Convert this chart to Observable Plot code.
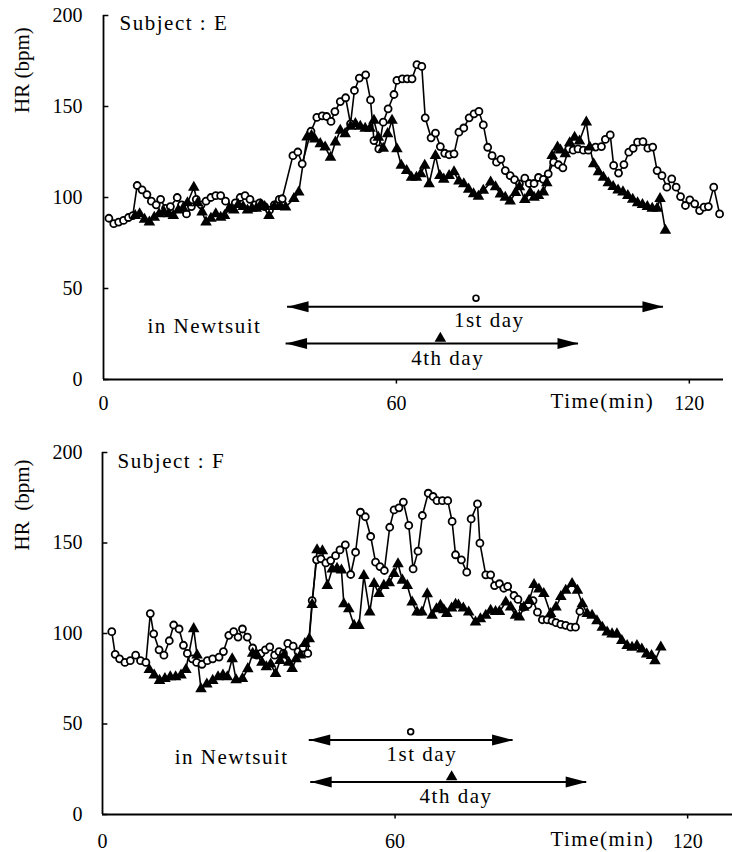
<!DOCTYPE html>
<html><head><meta charset="utf-8">
<script src="https://cdn.jsdelivr.net/npm/d3@7"></script>
<script src="https://cdn.jsdelivr.net/npm/@observablehq/plot@0.6"></script>
<style>
body{margin:0;background:#fff;}
#chart{width:732px;}
#chart svg{display:block;}
</style></head><body><div id="chart"></div>
<script>
// ---- tick values ----
const yTicks = [0, 50, 100, 150, 200];
const xTicks = [0, 60, 120];
const xTitle = "Time(min)";
const yTitles = ["HR (bpm)", "HR\u2002(bpm)"];
const subjects = ["Subject : E", "Subject : F"];
const suitLabel = "in Newtsuit";
const dayLabels = ["1st day", "4th day"];

// ---- Subject E : [time (min), HR (bpm)] ----
const eDay1 = [[1.1,88.6],[2.1,85.6],[3.1,86.5],[4.1,87.4],[5.1,89],[6.0,90],[6.9,106.6],[7.9,104.2],[8.9,101.6],[9.8,98],[10.8,96],[11.7,99],[12.7,94],[13.7,95],[15.1,100],[16.0,96],[17.0,91],[18.0,95],[19.0,99],[20.0,96],[21.0,98],[22.0,100],[23.0,101],[24.0,101],[25.0,98],[26.0,94],[27.0,97],[28.0,100],[29.0,101],[30.0,99],[31.0,96],[32.0,97],[33.0,95],[34.0,93],[35.0,96],[36.0,99],[36.6,99.3],[38.8,123],[39.8,125],[40.7,118.5],[42.5,136.4],[43.7,144],[44.8,144.9],[45.7,144.5],[46.6,141.8],[47.4,147.2],[48.5,152.7],[49.6,154.8],[50.6,140.5],[51.4,158.8],[52.4,165.6],[53.7,167.4],[54.7,153.6],[55.4,131.3],[56.4,126.7],[57.3,141.4],[58.3,148.7],[59.5,156.6],[60.1,164.3],[61.2,165.2],[62.2,165.2],[63.2,165.2],[64.2,173],[65.2,172],[65.9,143.8],[67.1,132.8],[68.0,135.4],[69.0,128],[69.9,124.3],[70.8,123.5],[71.8,124],[72.8,135.9],[73.8,138.2],[74.9,143.8],[75.9,146],[76.9,147.3],[77.8,139.9],[78.7,127.6],[79.6,123],[80.5,119.4],[81.4,121],[82.3,114.8],[83.3,112],[84.2,109.8],[85.2,107.5],[86.3,110.6],[87.2,107.7],[88.2,107.7],[89.1,111],[90.1,110],[91.1,113],[92.2,119.4],[93.2,118],[94.1,116.3],[95.3,126.7],[96.2,126],[97.2,126.7],[98.3,126],[99.3,126],[100.8,127.7],[102.0,128],[102.8,131.9],[103.8,134.4],[104.5,117.6],[105.5,113.4],[106.6,118.1],[107.6,124.9],[108.5,127],[109.4,130.4],[110.5,130.7],[111.5,127.1],[112.5,127.7],[113.4,114.8],[114.4,112],[115.4,105.7],[116.4,110.2],[117.3,105.7],[118.2,100.5],[119.2,95.6],[120.1,98.7],[121.1,96.5],[122.1,92.8],[123.0,94.7],[123.9,95],[125.0,105.7],[126.2,91]];
const eDay4 = [[6.5,90],[7.4,91],[8.4,88],[9.4,86.5],[10.4,89],[11.4,91],[12.4,92],[13.4,91],[14.3,90],[15.3,93],[16.3,94],[17.2,97],[18.5,105.5],[19.3,97],[20.2,92],[21.0,86.5],[22.0,88.5],[23.0,91],[24.0,89],[24.8,90],[25.8,94],[26.7,93],[27.6,96],[28.6,95],[29.5,93],[30.4,94],[31.3,94],[32.2,96],[33.0,95],[33.9,90],[35.0,95],[36.3,95],[37.3,94.7],[39.0,99.3],[40.0,102.9],[41.7,133.1],[42.6,134],[43.3,132],[44.4,129.5],[45.4,127.7],[46.5,122],[47.5,130.4],[48.5,136.8],[49.5,135],[50.6,139],[51.6,140.5],[52.6,139],[53.6,138],[54.6,138],[55.4,142.3],[56.3,133],[57.3,127],[58.2,135],[59.1,142.3],[60.1,126.7],[61.0,117.6],[62.1,114.8],[63.1,111],[64.1,111],[65.0,113],[65.8,117.6],[66.7,107.5],[68.0,123],[68.9,112],[69.7,110],[70.8,112],[71.8,114],[72.8,109],[73.8,107.5],[74.8,104.5],[75.8,102],[76.8,100.6],[77.8,103.9],[79.3,108.4],[80.3,105.8],[81.3,101.9],[82.3,100],[83.3,98],[84.4,102.6],[85.2,105.8],[86.3,98.8],[87.4,102.6],[88.2,100],[89.1,101],[90.1,103],[90.8,108],[91.9,123],[93.0,127.7],[93.6,126],[94.6,124],[95.5,130],[96.5,133],[97.5,131],[98.9,141.4],[99.6,127.7],[100.4,118.5],[101.4,114],[102.4,111],[103.4,108],[104.4,106],[105.4,104],[106.4,103],[107.4,101],[108.4,99],[109.4,97],[110.4,96],[111.4,95],[112.4,94],[113.4,94],[114.0,99.3],[115.1,81.9]];

// ---- Subject F : [time (min), HR (bpm)] ----
const fDay1 = [[1.9,101],[2.6,88.5],[3.5,86],[4.6,84],[5.7,85],[6.8,88],[7.8,85],[8.9,84],[9.8,111],[10.5,99.8],[11.6,91],[12.6,88],[13.7,96],[14.6,104.7],[15.7,102.5],[16.6,93.5],[17.4,89],[18.4,86],[19.3,84],[20.4,83],[21.5,85],[22.6,86],[23.9,87],[24.8,90],[25.9,99],[26.9,101],[27.8,98],[28.7,102.5],[29.7,98],[30.8,92],[31.6,88],[32.5,89],[33.4,91],[34.3,92.6],[35.3,88],[36.2,90],[37.1,89],[38.0,94.5],[39.1,93],[40.1,90],[41.1,92],[42.1,89],[43.0,118.2],[43.9,140.7],[44.8,141.3],[45.8,139],[46.8,140.3],[47.8,143],[48.7,146.2],[49.8,149],[50.9,132.6],[51.9,144.9],[52.9,167],[53.9,164.5],[55.0,153.6],[56.0,139.4],[56.9,137],[57.8,134.8],[58.9,158.7],[59.8,168.3],[60.8,169.4],[61.7,172.6],[62.8,159.7],[63.7,135.7],[64.7,145.5],[65.6,165.2],[66.8,177.5],[67.8,175.7],[68.6,173.4],[69.7,173.4],[70.8,173.4],[71.7,161.9],[72.4,143.5],[73.6,140.7],[74.7,133.9],[75.6,163.3],[76.9,171.6],[77.4,149.9],[78.6,132.4],[79.6,132.4],[80.4,126.5],[81.4,127.5],[82.3,125],[83.1,126],[84.4,121],[85.2,118.8],[86.3,114.5],[87.3,116],[88.3,118.2],[89.2,111.8],[90.2,107.6],[91.2,107.6],[92.2,107],[93.0,106],[94.0,105],[95.0,104.5],[96.0,103.5],[97.0,103.5],[97.9,112.3]];
const fDay4 = [[9.6,80],[10.6,77],[11.7,74],[12.8,75],[13.9,76],[15.0,76],[16.1,77],[17.1,80],[18.7,102.6],[19.4,88],[20.2,69.4],[21.4,72],[22.6,74],[23.7,76],[24.7,77],[25.6,76],[26.6,86],[27.4,74.4],[28.7,75],[29.8,80.5],[30.8,89],[31.7,88],[32.7,84],[33.6,81.5],[34.5,83],[35.5,77.8],[36.4,85],[37.2,88],[38.2,84],[38.9,80.6],[39.7,86],[40.6,88],[41.5,94.4],[42.4,97],[43.0,116],[44.0,146.2],[45.1,145.6],[46.1,126.5],[47.1,135.5],[48.1,136],[49.0,135],[49.5,116.4],[50.5,113.6],[51.6,104.4],[52.6,104.4],[53.6,132],[54.8,111.8],[55.7,127.5],[56.7,122],[57.7,126.5],[58.8,128],[59.8,133],[60.6,138.5],[61.5,129.4],[62.5,126.5],[63.5,117.3],[64.5,111.8],[65.5,111.8],[66.6,121.9],[67.6,110],[68.5,113.6],[69.3,115.5],[70.0,113],[70.6,110.9],[71.6,114],[72.4,116],[73.0,115.6],[74.0,114],[75.1,111.8],[76.5,106.2],[77.5,108],[78.6,110],[79.6,112.8],[80.6,112],[81.4,112],[82.7,117.3],[83.7,114.5],[84.7,110],[85.5,109],[86.4,114.4],[87.5,118.2],[88.5,127],[89.5,124.5],[90.5,122],[91.9,110.9],[93.0,114.5],[94.0,120.4],[95.0,123.8],[96.3,127.5],[97.4,123.8],[98.4,116.4],[99.4,111],[100.4,110],[101.4,107],[102.5,103.4],[103.5,100.7],[104.5,99.7],[105.5,99.7],[106.5,96],[107.6,93.3],[108.6,92.3],[109.6,93.3],[110.6,91.4],[111.6,88.6],[112.6,87.7],[113.3,84.9],[114.5,92.4]];

// ---- "in Newtsuit" periods (min) and where they are annotated (min, bpm) ----
const ePeriods = [{from: 37.7, to: 114.7, at: 40}, {from: 37.4, to: 97.3, at: 19.8}];
const fPeriods = [{from: 42.4, to: 84.2, at: 41.1}, {from: 42.7, to: 99.3, at: 18}];
const eDayLabelPos = [[79, 32.4], [70.5, 11.4]];
const fDayLabelPos = [[65.5, 33.3], [72.5, 10.2]];
const eDayMarkPos = [[76.3, 44.7], [69, 22.6]];
const fDayMarkPos = [[63.2, 45.7], [71.6, 20.8]];

// arrowhead symbol (tip at the origin, pointing right)
const arrowHead = {draw(ctx) { ctx.moveTo(0, 0); ctx.lineTo(-21, -5.5); ctx.lineTo(-21, 5.5); ctx.closePath(); }};

const FONT = '"Liberation Serif", "Times New Roman", serif';
const spacedTexts = [xTitle, suitLabel, ...subjects, ...dayLabels];

function panel(o) {
  const ends = o.periods.flatMap(p => [{x: p.from, y: p.at, rot: 180}, {x: p.to, y: p.at, rot: 0}]);
  const svg = Plot.plot({
    width: 732, height: 426,
    marginLeft: o.ml, marginRight: o.mr, marginTop: o.mt, marginBottom: o.mb,
    x: {domain: [0, o.xMax]},
    y: {domain: [0, 200]},
    style: {fontFamily: FONT, fontSize: "20px", color: "black", background: "white", overflow: "visible"},
    marks: [
      Plot.ruleY([0], {stroke: "black", strokeWidth: 1.8}),
      Plot.ruleX([0], {y1: 0, y2: 200, stroke: "black", strokeWidth: 1.8}),
      Plot.ruleY(yTicks, {x1: 0, x2: 1.1, stroke: "black", strokeWidth: 1.5}),
      Plot.ruleX(xTicks.slice(1), {y1: 0, y2: -2.5, stroke: "black", strokeWidth: 1.5}),
      Plot.axisY({ticks: yTicks, tickSize: 0, tickPadding: o.ypad, label: null, fontSize: 20}),
      Plot.axisX({ticks: xTicks, tickSize: 0, tickPadding: o.xpad, label: null, fontSize: 20}),
      Plot.text([xTitle], {x: o.timeX, y: o.timeY, text: d => d, fontSize: 21}),
      Plot.text([o.yTitle], {x: o.hrX, y: o.hrY, text: d => d, rotate: -90, fontSize: 21}),
      Plot.text([o.subject], {x: o.subjX, y: o.subjY, text: d => d, textAnchor: "start", fontSize: 21}),
      Plot.text([suitLabel], {x: o.suitX, y: o.suitY, text: d => d, textAnchor: "start", fontSize: 21}),
      // period arrows
      Plot.ruleY(o.periods, {y: "at", x1: "from", x2: "to", stroke: "black", strokeWidth: 2}),
      Plot.dot(ends, {x: "x", y: "y", symbol: arrowHead, rotate: "rot", fill: "black", stroke: "none"}),
      Plot.text(dayLabels, {x: (d, i) => o.labelPos[i][0], y: (d, i) => o.labelPos[i][1], text: d => d, fontSize: 21}),
      Plot.dot([o.markPos[0]], {x: d => d[0], y: d => d[1], r: 2.9, fill: "white", stroke: "black", strokeWidth: 1.7}),
      Plot.dot([o.markPos[1]], {x: d => d[0], y: d => d[1], r: 4.3, symbol: "triangle", fill: "black", stroke: "none"}),
      // series
      Plot.line(o.day1, {x: d => d[0], y: d => d[1], stroke: "black", strokeWidth: 1.6}),
      Plot.line(o.day4, {x: d => d[0], y: d => d[1], stroke: "black", strokeWidth: 1.6}),
      Plot.dot(o.day1, {x: d => d[0], y: d => d[1], r: 3.5, fill: "white", stroke: "black", strokeWidth: 1.8}),
      Plot.dot(o.day4, {x: d => d[0], y: d => d[1], r: 4.3, symbol: "triangle", fill: "black", stroke: "none"})
    ]
  });
  d3.select(svg).selectAll("text")
    .filter(function() { return spacedTexts.includes(this.textContent); })
    .attr("letter-spacing", "1.5px");
  return svg;
}

const chart = document.getElementById("chart");
chart.append(panel({
  ml: 103, mr: 9, mt: 15, mb: 47, xMax: 127, ypad: 21, xpad: 16,
  day1: eDay1, day4: eDay4, periods: ePeriods, labelPos: eDayLabelPos, markPos: eDayMarkPos,
  subject: subjects[0], subjX: 3.3, subjY: 195.5, suitX: 9.0, suitY: 29,
  timeX: 102.2, timeY: -12, yTitle: yTitles[0], hrX: -16.6, hrY: 170
}));
chart.append(panel({
  ml: 102, mr: 0, mt: 26, mb: 38, xMax: 129.2, ypad: 20, xpad: 19,
  day1: fDay1, day4: fDay4, periods: fPeriods, labelPos: fDayLabelPos, markPos: fDayMarkPos,
  subject: subjects[1], subjX: 3.1, subjY: 195, suitX: 14.8, suitY: 31.5,
  timeX: 102.5, timeY: -13.5, yTitle: yTitles[1], hrX: -16.4, hrY: 171
}));
</script>
</body></html>
